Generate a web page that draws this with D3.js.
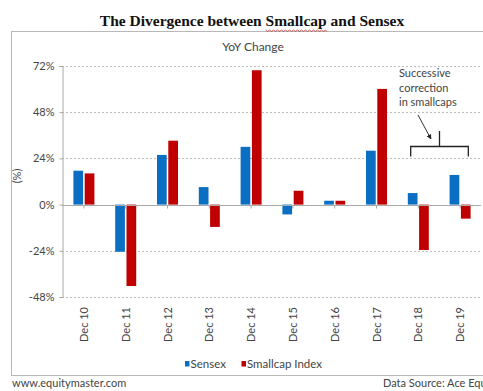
<!DOCTYPE html>
<html>
<head>
<meta charset="utf-8">
<script src="https://cdn.jsdelivr.net/npm/d3@7"></script>
<style>
  html, body { margin: 0; padding: 0; background: #fff; }
  svg { display: block; }
  text { font-family: Lato, "Open Sans", sans-serif; }
</style>
</head>
<body>
<svg id="chart" width="483" height="391"></svg>
<script>
// Year-on-year change (%) of the Sensex and the Smallcap index
const years = ["Dec 10", "Dec 11", "Dec 12", "Dec 13", "Dec 14", "Dec 15", "Dec 16", "Dec 17", "Dec 18", "Dec 19"];
const sensex = [17.6, -24.5, 25.8, 9.1, 30.0, -5.1, 2.0, 28.0, 6.0, 15.4];
const smallcap = [16.2, -42.3, 33.2, -11.6, 69.8, 7.2, 2.0, 60.1, -23.6, -7.3];
const seriesNames = ["Sensex", "Smallcap Index"];
const seriesColors = ["#0a6fc2", "#c00000"];
const yTicks = [-48, -24, 0, 24, 48, 72];

const svg = d3.select("#chart");

// Title with the spell-check squiggle under "Smallcap"
const title = svg.append("text")
  .attr("x", 252).attr("y", 26)
  .attr("text-anchor", "middle")
  .style("font-family", "'Liberation Serif', 'DejaVu Serif', serif")
  .style("font-weight", "bold")
  .style("font-size", "15.5px")
  .attr("fill", "#111");
title.append("tspan").text("The Divergence between ");
title.append("tspan").text("Smallcap");
title.append("tspan").text(" and Sensex");

// Outer frame
svg.append("rect")
  .attr("x", 11.5).attr("y", 31.5)
  .attr("width", 480).attr("height", 344)
  .attr("fill", "none").attr("stroke", "#b8b8b8").attr("stroke-width", 1);

svg.append("text")
  .attr("x", 253).attr("y", 51)
  .attr("text-anchor", "middle")
  .style("font-size", "12px").attr("fill", "#444")
  .text("YoY Change");

// Scales
const x0 = d3.scaleBand().domain(years).range([63, 481]).padding(0);
const x1 = d3.scaleBand().domain(seriesNames).range([0, x0.bandwidth()])
  .paddingInner(0.14).paddingOuter(0.92);
const y = d3.scaleLinear().domain([-48, 72]).range([297, 66]);

// Dotted gridlines
svg.append("g").selectAll("line")
  .data(yTicks.filter(t => t !== 0))
  .join("line")
  .attr("x1", 62).attr("x2", 481)
  .attr("y1", d => Math.round(y(d)) + 0.5).attr("y2", d => Math.round(y(d)) + 0.5)
  .attr("stroke", "#bdbdbd").attr("stroke-dasharray", "2,2");

// Y axis
const yAxis = svg.append("g")
  .attr("transform", "translate(62.5,0)")
  .call(d3.axisLeft(y).tickValues(yTicks).tickSize(3).tickPadding(5)
    .tickFormat(d => d + "%"));
yAxis.select(".domain").attr("stroke", "#a8a8a8");
yAxis.selectAll(".tick line").attr("stroke", "#a8a8a8");
yAxis.selectAll(".tick text")
  .style("font-family", "Lato, sans-serif").style("font-size", "11px").attr("fill", "#444");

svg.append("text")
  .attr("transform", "translate(21,176) rotate(-90)")
  .attr("text-anchor", "middle")
  .style("font-size", "11px").attr("fill", "#444")
  .text("(%)");

// Bars
const rows = years.map((yr, i) => ({ year: yr, values: [sensex[i], smallcap[i]] }));
const groups = svg.append("g").selectAll("g")
  .data(rows).join("g")
  .attr("transform", d => `translate(${x0(d.year)},0)`);
groups.selectAll("rect")
  .data(d => d.values.map((v, k) => ({ key: seriesNames[k], value: v, color: seriesColors[k] })))
  .join("rect")
  .attr("x", d => x1(d.key))
  .attr("width", x1.bandwidth())
  .attr("y", d => y(Math.max(0, d.value)))
  .attr("height", d => Math.abs(y(d.value) - y(0)))
  .attr("fill", d => d.color);

// Zero line with category ticks
const y0 = Math.round(y(0)) + 0.5;
svg.append("line")
  .attr("x1", 62).attr("x2", 481).attr("y1", y0).attr("y2", y0)
  .attr("stroke", "#a8a8a8");
svg.append("g").selectAll("line")
  .data(years).join("line")
  .attr("x1", d => x0(d) + x0.bandwidth() / 2).attr("x2", d => x0(d) + x0.bandwidth() / 2)
  .attr("y1", y0).attr("y2", y0 + 3)
  .attr("stroke", "#a8a8a8");

// Rotated category labels
svg.append("g").selectAll("text")
  .data(years).join("text")
  .attr("transform", d => `translate(${x0(d) + x0.bandwidth() / 2 + 4},307) rotate(-90)`)
  .attr("text-anchor", "end")
  .style("font-size", "11px").attr("fill", "#444")
  .text(d => d);

// Legend
const legend = svg.append("g");
const legendItems = [
  { name: "Sensex", color: seriesColors[0], x: 185 },
  { name: "Smallcap Index", color: seriesColors[1], x: 241.5 }
];
legendItems.forEach(it => {
  legend.append("rect").attr("x", it.x).attr("y", 361).attr("width", 4.5).attr("height", 5.5)
    .attr("fill", it.color);
  legend.append("text").attr("x", it.x + 5.5).attr("y", 368)
    .style("font-size", "11.5px").attr("fill", "#444").text(it.name);
});

// Annotation: brace over the last two years
const note = svg.append("text")
  .attr("x", 399).attr("y", 77)
  .style("font-size", "11px").attr("fill", "#444");
["Successive", "correction", "in smallcaps"].forEach((s, i) => {
  note.append("tspan").attr("x", 399).attr("dy", i === 0 ? 0 : 14.5).text(s);
});

svg.append("defs").append("marker")
  .attr("id", "arrowhead").attr("viewBox", "0 0 10 10")
  .attr("refX", 9).attr("refY", 5)
  .attr("markerWidth", 5).attr("markerHeight", 5)
  .attr("orient", "auto")
  .append("path").attr("d", "M0,0 L10,5 L0,10 z").attr("fill", "#222");

svg.append("line")
  .attr("x1", 418).attr("y1", 115).attr("x2", 431).attr("y2", 139)
  .attr("stroke", "#333").attr("stroke-width", 1)
  .attr("marker-end", "url(#arrowhead)");

const bxL = x0("Dec 18") + 13.3, bxR = x0("Dec 19") + x0.bandwidth() - 12.7;
svg.append("path")
  .attr("d", `M${bxL},156.5 V146.5 H${bxR} V156.5 M${(bxL + bxR) / 2},146.5 V131`)
  .attr("fill", "none").attr("stroke", "#222").attr("stroke-width", 1.3);

// Footer
svg.append("text").attr("x", 12).attr("y", 387)
  .style("font-size", "11px").attr("fill", "#444").text("www.equitymaster.com");
svg.append("text").attr("x", 383).attr("y", 387)
  .style("font-size", "11px").attr("fill", "#444").text("Data Source: Ace Equity");

// Squiggle under "Smallcap" in the title
const tNode = title.node();
const sStart = "The Divergence between ".length;
const sEnd = sStart + "Smallcap".length - 1;
const xa = tNode.getStartPositionOfChar(sStart).x;
const xb = tNode.getEndPositionOfChar(sEnd).x;
let d = `M${xa},30`;
for (let xx = xa, k = 0; xx < xb; xx += 2, k++) d += ` L${Math.min(xx + 2, xb)},${k % 2 ? 30 : 31.5}`;
svg.append("path").attr("d", d).attr("fill", "none").attr("stroke", "#d03030").attr("stroke-width", 0.8);
</script>
</body>
</html>
